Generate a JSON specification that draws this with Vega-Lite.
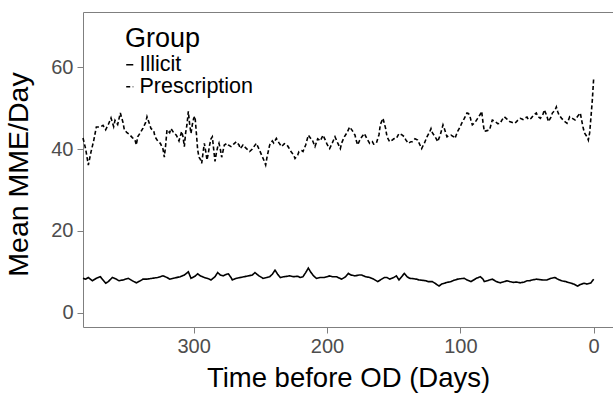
{
  "$schema": "https://vega.github.io/schema/vega-lite/v6.json",
  "width": 530,
  "height": 315,
  "autosize": "none",
  "padding": {"left": 83, "top": 12, "right": 0, "bottom": 66},
  "background": "white",
  "config": {"view": {"stroke": null}, "font": "Liberation Sans"},
  "datasets": {
    "rx": [
      [383,42.7],[381,40],[379,36.1],[377,39.3],[375,42],[373,45.4],[370,45.4],[368,45.8],[366,44.7],[364,46],[362,47.6],[360,45.5],[359,47],[357,46],[355,48.8],[353,46.5],[352,44.7],[350,44],[348,43.5],[346,42.8],[344,42.2],[343,41],[342,43],[340,44],[338,45.1],[336,46.5],[335,47.9],[333,46],[332,45],[330,44.5],[329,43],[327,42],[325,41.4],[323,40],[322,38],[321,41],[320,44.7],[318,44],[317,45],[315,44],[313,43.4],[311,42],[309,44.3],[308,43],[307,40.6],[306,44],[305,46],[304,49.2],[303,46],[302,43.8],[301,46],[300,47.5],[299,48],[298,44],[297,39.8],[296,38],[295,37.5],[294,36.5],[293,39],[292,41.4],[291,39.5],[290,37.3],[289,39],[288,41],[287,42.5],[286,43],[285,40],[284,37],[283,39],[282,40.5],[281,41.4],[280,40],[279,38],[278,39.5],[277,41],[275,41.4],[274,41],[272,40.6],[270,41.2],[268,41.8],[266,41],[265,40.1],[263,41],[262,40.6],[260,40],[258,39.4],[256,40],[255,40.5],[253,41.4],[251,40],[249,38.5],[247,37],[246,36.1],[245,38],[243,41],[241,42],[240,41.5],[238,42.6],[236,41.5],[234,40.6],[232,41.3],[230,41],[229,40.5],[227,39.4],[225,38.5],[224,37.7],[222,38.5],[221,39.4],[219,39.6],[218,39.4],[216,41],[214,43.4],[212,42.5],[211,42.2],[209,40.6],[207,42.5],[205,42],[203,43.4],[201,42],[200,41.2],[198,40.1],[196,41.5],[194,43],[192,41.5],[190,40.1],[189,41.5],[187,43],[185,44],[183,45.4],[181,44.5],[179,43.4],[178,42],[177,41],[175,42.5],[172,43.8],[170,42.5],[168,41.4],[166,41.8],[165,41.2],[163,41.4],[161,43.5],[160,46],[158,47.5],[156,45],[155,43],[153,41.8],[151,42.2],[150,42.5],[148,42.6],[146,43.8],[144,43.5],[142,43],[141,42.3],[139,41.4],[137,41.8],[136,41.8],[134,42.5],[132,42.2],[131,41.5],[129,40.1],[128,40.8],[127,41.4],[125,43],[123,44.2],[122,45],[121,44],[119,43],[118,42.5],[117,41.8],[115,43.5],[113,45.9],[112,45],[110,43],[109,43.2],[107,43.4],[105,43],[104,42.6],[103,43.5],[102,44.3],[100,45.5],[99,46.3],[97,47.5],[95,48.8],[94,48.7],[93,48.3],[92,47],[91,45.9],[89,46.5],[87,47.5],[85,48.5],[84,49.2],[83,46.5],[82,44.3],[80,44.5],[78,44.7],[77,46],[76,47.1],[74,46.8],[72,46.2],[70,46.3],[69,47],[67,47.9],[65,47.3],[63,46.7],[61,46.5],[59,46.3],[57,47],[55,47.5],[53,47.2],[52,47.5],[50,47.8],[49,47.2],[47,47.5],[45,48.3],[43,48.8],[42,48],[40,47.5],[38,48.5],[37,49.6],[35,48],[34,46.7],[32,47.8],[31,48.8],[29,49.5],[28,50.3],[27,49.2],[26,48.3],[24,47.5],[22,46.8],[20,46.3],[19,47],[18,47.9],[16,47.5],[14,47.1],[12,48],[10,48.8],[9,47],[8,45.4],[7,44],[6,43.5],[5,43],[4,42.2],[3,44],[2,47.9],[1,52],[0,57.3]
    ],
    "il": [
      [383,8.4],[381,8.2],[379,8.6],[376,7.8],[373,8.4],[370,8.8],[368,8],[366,7.2],[364,7.6],[361,8.6],[358,8.2],[356,7.8],[353,8],[349,8.4],[346,7.8],[343,7.3],[340,7.8],[338,8.2],[335,8.2],[331,8.4],[327,8.6],[323,9.0],[320,8.6],[318,8.2],[314,8.5],[310,8.8],[307,9.2],[304,10],[302,8.4],[299,8.9],[297,9.5],[295,9],[292,8.6],[289,8.3],[287,8],[284,8.8],[282,9.8],[280,9.2],[278,9.0],[276,9.3],[274,9.5],[272,8.6],[271,8.0],[268,8.4],[265,8.6],[262,8.8],[259,9.0],[256,9.2],[254,9.8],[251,9],[248,8.4],[245,8.6],[243,8.8],[241,9.4],[239,10.4],[237,9.4],[235,8.6],[232,8.8],[228,9.0],[225,8.8],[222,8.9],[220,8.6],[218,8.8],[216,9.8],[214,10.9],[212,9.8],[210,9],[208,8.4],[205,8.6],[202,8.6],[200,8.8],[198,9.0],[196,8.8],[193,8.8],[191,8.5],[189,8.2],[186,8.8],[184,9.6],[182,9.2],[179,9.0],[176,9.2],[174,9.2],[171,8.8],[168,8.6],[165,8.2],[162,7.6],[160,8],[157,8.6],[155,8.6],[153,8.2],[150,8.6],[148,9.0],[146,8.0],[144,8.8],[142,9.6],[140,8.8],[138,8.4],[135,8.3],[133,8.2],[131,8.0],[128,7.9],[126,7.8],[124,7.6],[121,7.6],[119,7.2],[116,6.5],[114,7],[112,7.2],[110,7.4],[107,7.6],[105,7.9],[102,8.2],[100,8.3],[97,8.4],[95,8.0],[92,7.6],[90,8],[88,8.4],[85,8.8],[83,8.2],[82,7.6],[80,7.8],[78,8],[76,8.2],[73,7.6],[70,7.3],[67,7.6],[65,7.8],[63,7.6],[60,7.4],[58,7.5],[55,7.3],[52,7.5],[50,7.8],[48,7.8],[46,8],[43,8.2],[41,8.1],[38,8],[35,8.0],[32,8.4],[29,8.6],[27,8.2],[24,7.8],[21,7.6],[18,7.3],[15,7.0],[12,6.5],[10,6.9],[7,7.2],[5,7.0],[2,7.3],[0,8.2]
    ]
  },
  "resolve": {"axis": {"x": "independent"}},
  "layer": [
    {
      "data": {"name": "il"},
      "transform": [
        {"calculate": "datum[0]", "as": "d"},
        {"calculate": "datum[1]", "as": "v"},
        {"calculate": "'Illicit'", "as": "g"}
      ],
      "mark": {"type": "line", "color": "black", "strokeWidth": 1.6},
      "encoding": {
        "x": {
          "field": "d", "type": "quantitative",
          "scale": {"domain": [383, -14.5], "nice": false, "zero": false},
          "axis": {"orient": "bottom", "values": [0, 100, 200, 300], "title": "Time before OD (Days)", "titleFontSize": 27.5, "titleFontWeight": "normal", "titleColor": "black", "labelFontSize": 20, "labelColor": "#4d4d4d", "tickColor": "#7f7f7f", "domainColor": "#7f7f7f", "tickSize": 6, "labelPadding": 3, "titlePadding": 8, "grid": false}
        }
      }
    },
    {
      "data": {"name": "rx"},
      "transform": [
        {"calculate": "datum[0]", "as": "d"},
        {"calculate": "datum[1]", "as": "v"},
        {"calculate": "'Prescription'", "as": "g"}
      ],
      "mark": {"type": "line", "color": "black", "strokeWidth": 1.6},
      "encoding": {
        "x": {
          "field": "d", "type": "quantitative",
          "axis": {"orient": "top", "labels": false, "ticks": false, "title": null, "domainColor": "#7f7f7f", "grid": false}
        }
      }
    }
  ],
  "encoding": {
    "y": {
      "field": "v", "type": "quantitative",
      "scale": {"domain": [-3.5, 73.5], "nice": false, "zero": false},
      "axis": {"values": [0, 20, 40, 60], "title": "Mean MME/Day", "titleFontSize": 28.5, "titleFontWeight": "normal", "titleColor": "black", "labelFontSize": 20, "labelColor": "#4d4d4d", "tickColor": "#7f7f7f", "domainColor": "#7f7f7f", "tickSize": 6, "labelPadding": 4, "titlePadding": 17, "titleY": 162, "grid": false}
    },
    "strokeDash": {
      "field": "g", "type": "nominal",
      "scale": {"domain": ["Illicit", "Prescription"], "range": [[1, 0], [4, 2.5]]},
      "legend": {"orient": "none", "legendX": 42, "legendY": 14, "title": "Group", "titleFontSize": 27, "titleFontWeight": "normal", "titleColor": "black", "labelFontSize": 21.5, "labelColor": "black", "symbolType": "stroke", "symbolSize": 50, "symbolStrokeWidth": 1.5, "symbolStrokeColor": "black", "symbolOffset": -6, "labelOffset": -1, "rowPadding": -2.5, "titlePadding": 1}
    }
  }
}
